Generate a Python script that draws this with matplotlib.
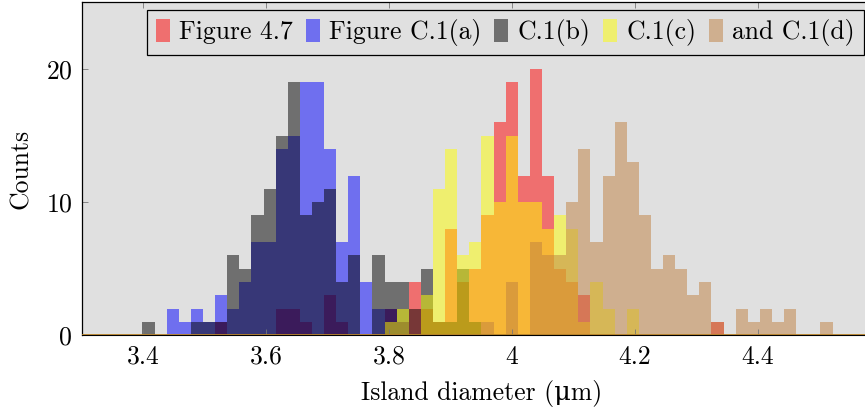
import numpy as np
import matplotlib
matplotlib.use("Agg")
import matplotlib.pyplot as plt
from matplotlib.patches import Patch

plt.rcParams['font.family'] = ['cmr10', 'DejaVu Serif']
plt.rcParams['axes.formatter.use_mathtext'] = True

# histogram bins (shared by all five series)
bin_left = 3.3984
bin_width = 0.0197

# counts per bin
fig47 = [0, 0, 0, 0, 0, 0, 1, 0, 0, 0, 0, 2, 2, 1, 0, 3, 1, 0, 0, 0,
         2, 1, 4, 2, 1, 8, 4, 5, 9, 16, 19, 12, 20, 12, 5, 4, 3, 0, 0, 0,
         0, 0, 0, 0, 0, 0, 0, 1, 0, 0, 0, 0, 0, 0, 0, 0, 0]
c1a = [0, 0, 2, 1, 2, 1, 3, 2, 4, 7, 7, 14, 15, 19, 19, 14, 7, 12, 4, 2,
       2, 1, 0, 0, 0, 0, 0, 0, 0, 0, 0, 0, 0, 0, 0, 0, 0, 0, 0, 0,
       0, 0, 0, 0, 0, 0, 0, 0, 0, 0, 0, 0, 0, 0, 0, 0, 0]
c1b = [1, 0, 0, 0, 1, 1, 1, 6, 5, 9, 11, 15, 19, 9, 10, 11, 4, 6, 0, 6,
       4, 4, 2, 5, 1, 1, 5, 1, 0, 0, 0, 0, 0, 0, 0, 0, 0, 0, 0, 0,
       0, 0, 0, 0, 0, 0, 0, 0, 0, 0, 0, 0, 0, 0, 0, 0, 0]
c1c = [0, 0, 0, 0, 0, 0, 0, 0, 0, 0, 0, 0, 0, 0, 0, 0, 0, 0, 0, 0,
       1, 2, 0, 3, 11, 14, 6, 7, 15, 10, 15, 10, 10, 8, 9, 8, 1, 4, 2, 0,
       2, 0, 0, 0, 0, 0, 0, 0, 0, 0, 0, 0, 0, 0, 0, 0, 0]
c1d = [0, 0, 0, 0, 0, 0, 0, 0, 0, 0, 0, 0, 0, 0, 0, 0, 0, 0, 0, 0,
       0, 0, 0, 0, 0, 0, 0, 0, 1, 0, 4, 0, 7, 6, 6, 10, 14, 7, 12, 16,
       13, 9, 5, 6, 5, 3, 4, 1, 0, 2, 1, 2, 1, 2, 0, 0, 1]

labels = ['Figure 4.7', 'Figure C.1(a)', 'C.1(b)', 'C.1(c)', 'and C.1(d)']
colors = ['#ff0000', '#0000ff', '#000000', '#ffff00', '#bf8040']
xticks = [3.4, 3.6, 3.8, 4.0, 4.2, 4.4]
xticklabels = ['3.4', '3.6', '3.8', '4', '4.2', '4.4']
yticks = [0, 10, 20]

fs = 18.5

fig = plt.figure(figsize=(8.65, 4.11), dpi=100)
ax = fig.add_axes([82 / 865, 1 - 335.3 / 411, 798.9 / 865, 332.8 / 411])
ax.set_facecolor('#e0e0e0')

edges = bin_left + bin_width * np.arange(len(fig47))
for counts, col in zip([fig47, c1a, c1b, c1c, c1d], colors):
    ax.bar(edges, counts, width=bin_width, align='edge', color=col,
           alpha=0.5, linewidth=0)

# zero-height bars leave a line along the baseline
ax.axhline(0, color='#b5812a', lw=1.3, zorder=3)

ax.set_xlim(3.3, 4.6)
ax.set_ylim(0, 25)
ax.set_xticks(xticks)
ax.set_xticklabels(xticklabels)
ax.set_yticks(yticks)
ax.tick_params(direction='in', length=4, width=0.6, color='#777777',
               top=True, right=True, labelsize=fs, pad=7)
for s in ['left', 'top']:
    ax.spines[s].set_linewidth(0.9)
ax.spines['right'].set_visible(False)

ax.set_xlabel('Island diameter (\u03bcm)', fontsize=fs, labelpad=8)
ax.set_ylabel('Counts', fontsize=fs, labelpad=9)

handles = [Patch(facecolor=c, alpha=0.5, linewidth=0) for c in colors]
leg = ax.legend(handles, labels, ncol=5, loc='upper left',
                bbox_to_anchor=(147 / 865, 1 - 10 / 411),
                bbox_transform=fig.transFigure,
                fontsize=fs, handlelength=0.55, handleheight=1.0,
                handletextpad=0.35, columnspacing=0.5, borderpad=0.35,
                borderaxespad=0, fancybox=False, framealpha=1,
                facecolor='#e0e0e0', edgecolor='black')
leg.get_frame().set_linewidth(0.9)

fig.savefig('out.png', dpi=100)
